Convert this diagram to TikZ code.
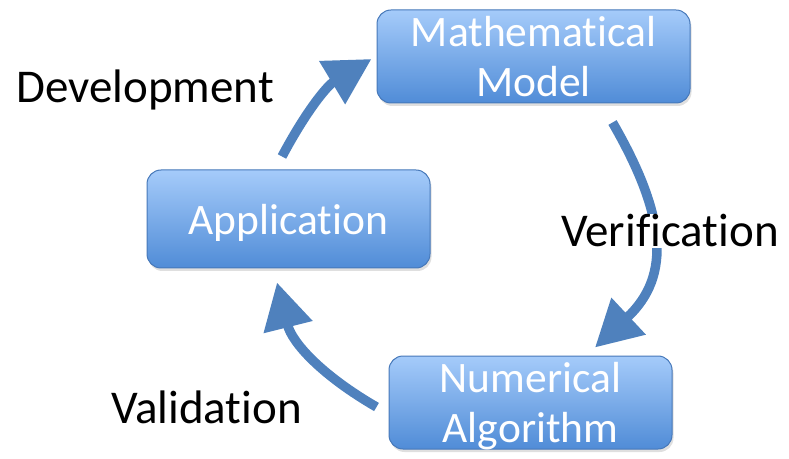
\documentclass[tikz,border=0pt]{standalone}
\usepackage{fontspec}
\setmainfont{Carlito}[Ligatures={NoCommon}]
\usetikzlibrary{arrows.meta,shadows}
\definecolor{cycblue}{RGB}{79,129,189}
\definecolor{boxtop}{RGB}{165,203,250}
\definecolor{boxbottom}{RGB}{80,140,215}
\definecolor{boxedge}{RGB}{70,120,185}

\begin{document}
\begin{tikzpicture}[x=1pt,y=1pt,
    stage/.style={draw=boxedge,line width=1pt,rounded corners=14pt,
        top color=boxtop,bottom color=boxbottom,text=white,
        font={\fontsize{43.5}{50}\selectfont},align=center,text depth=0pt,
        inner sep=0pt,drop shadow={opacity=0.25,shadow xshift=1.5pt,shadow yshift=-3pt}},
    phase/.style={font={\fontsize{47}{50}\selectfont},anchor=base,inner sep=1pt},
    cyclearrow/.style={cycblue,line width=9.5pt,-{Triangle[length=46pt,width=48pt]}}]

\useasboundingbox (0,0) rectangle (789,458);

\node[stage,minimum width=313pt,minimum height=93pt] (math) at (533.5,401.5) {Mathematical\\Model};
\node[stage,minimum width=283pt,minimum height=98pt] (app) at (288.5,239) {Application};
\node[stage,minimum width=283pt,minimum height=93pt] (num) at (530.5,55.5) {Numerical\\Algorithm};

% the cycle
\draw[cyclearrow] ([xshift=-6.5pt,yshift=13pt]app.north) to[out=62,in=211] ([xshift=-5pt,yshift=-2.5pt]math.west);
\draw[cyclearrow] ([xshift=-78pt,yshift=-19pt]math.south east) to[out=-60,in=43,looseness=1.2] ([xshift=64.5pt,yshift=8pt]num.north);
\draw[cyclearrow] ([xshift=-12pt,yshift=-4.5pt]num.west) to[out=150,in=-76] ([xshift=-11.5pt,yshift=-14pt]app.south);

\node[phase] (dev) at (145,355) {Development};
\node[phase,fill=white] (ver) at (670,211) {Verification};
\node[phase] (val) at (206.5,35) {Validation};

\end{tikzpicture}
\end{document}
